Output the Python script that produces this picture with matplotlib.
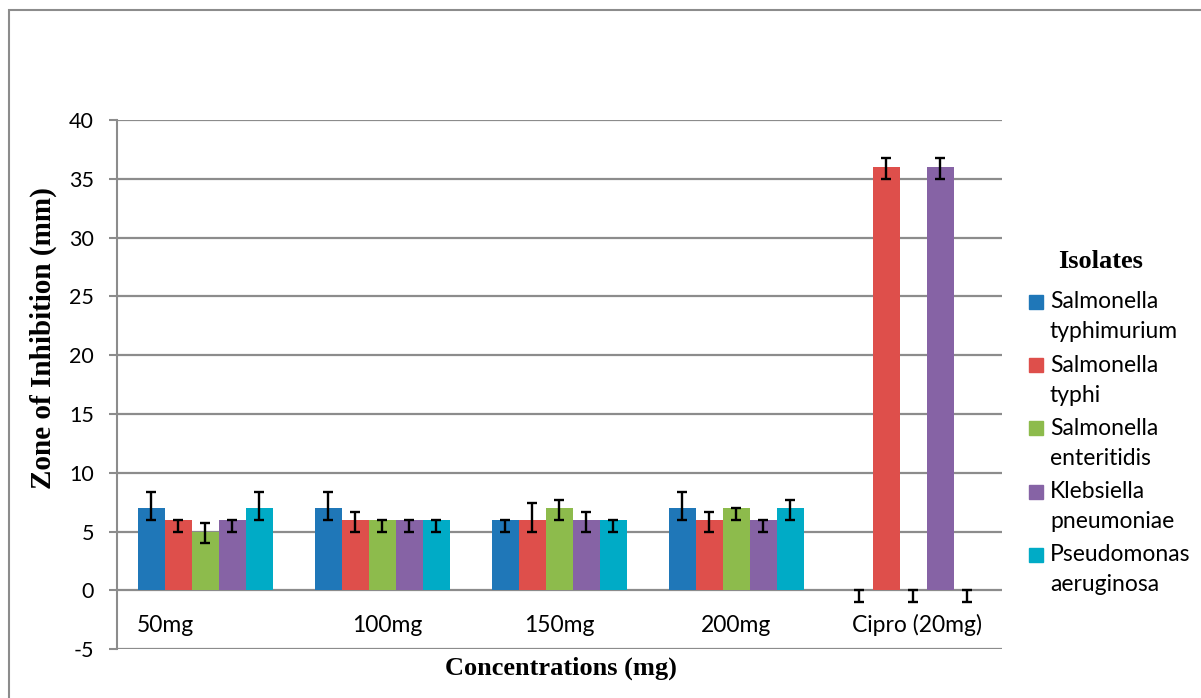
import matplotlib
matplotlib.use("Agg")
import matplotlib.pyplot as plt
from matplotlib.patches import Rectangle
import numpy as np

# ---- data ----
concentrations = ["50mg", "100mg", "150mg", "200mg", "Cipro (20mg)"]
isolates = ["Salmonella\ntyphimurium", "Salmonella\ntyphi", "Salmonella\nenteritidis",
            "Klebsiella\npneumoniae", "Pseudomonas\naeruginosa"]
colors = ["#1F77B8", "#DE4F4B", "#8DBB4C", "#8663A5", "#00ABC6"]

# zone of inhibition (mm), one list per isolate across the concentrations
zone = [
    [7, 7, 6, 7, 0],    # S. typhimurium
    [6, 6, 6, 6, 36],   # S. typhi
    [5, 6, 7, 7, 0],    # S. enteritidis
    [6, 6, 6, 6, 36],   # K. pneumoniae
    [7, 6, 6, 7, 0],    # P. aeruginosa
]
# error bar extent below / above each bar value
err_lo = [
    [1.0, 1.0, 1.0, 1.0, 1.0],
    [1.0, 1.0, 1.0, 1.0, 1.0],
    [1.0, 1.0, 1.0, 1.0, 1.0],
    [1.0, 1.0, 1.0, 1.0, 1.0],
    [1.0, 1.0, 1.0, 1.0, 1.0],
]
err_hi = [
    [1.4, 1.4, 0.0, 1.4, 0.0],
    [0.0, 0.65, 1.4, 0.65, 0.8],
    [0.75, 0.0, 0.7, 0.0, 0.0],
    [0.0, 0.0, 0.65, 0.0, 0.8],
    [1.4, 0.0, 0.0, 0.7, 0.0],
]
yticks = [-5, 0, 5, 10, 15, 20, 25, 30, 35, 40]

SANS = "Lato"
SERIF = "Liberation Serif"
GRID = "#8C8C8C"

W, H = 1201, 698
fig = plt.figure(figsize=(W / 100, H / 100), dpi=100)
ax = fig.add_axes([116.7 / W, 1 - 649.3 / H, (1001.7 - 116.7) / W, (649.3 - 120) / H])

n_cat = len(concentrations)
x = np.arange(n_cat) + 0.5
bw = 0.1525
for j, (vals, lo, hi, c) in enumerate(zip(zone, err_lo, err_hi, colors)):
    xs = x + (j - 2) * bw
    ax.bar(xs, vals, width=bw, color=c, zorder=2)
    ax.errorbar(xs, vals, yerr=[lo, hi], fmt="none", ecolor="black",
                elinewidth=1.7, capsize=3.4, capthick=1.7, zorder=3)

ax.set_xlim(0, n_cat)
ax.set_ylim(-5, 40)
ax.set_yticks(yticks)
ax.set_yticklabels([str(t) for t in yticks], fontfamily=SANS, fontsize=15.5)
ax.set_xticks([])
for s in ("top", "right", "bottom"):
    ax.spines[s].set_visible(False)
ax.spines["left"].set_color(GRID)
ax.spines["left"].set_linewidth(1.5)
ax.tick_params(axis="y", direction="out", length=6, width=1.5, color=GRID, pad=10.5)
for t in yticks:
    ax.axhline(t, color=GRID, lw=1.6, zorder=1)

# category labels sit just under the zero line
label_shift = [-0.227, 0.03, 0.0, 0.0, 0.02]
for xi, lab, dx in zip(x, concentrations, label_shift):
    ax.text(xi + dx, -2.95, lab, ha="center", va="center",
            fontfamily=SANS, fontsize=16.5)

fig.text(43 / W, 1 - 338 / H, "Zone of Inhibition (mm)", rotation=90,
         ha="center", va="center", fontfamily=SERIF, fontweight="bold", fontsize=21)
fig.text(561 / W, 1 - 668 / H, "Concentrations (mg)", ha="center", va="center",
         fontfamily=SERIF, fontweight="bold", fontsize=19)

# legend
fig.text(1101 / W, 1 - 262 / H, "Isolates", ha="center", va="center",
         fontfamily=SERIF, fontweight="bold", fontsize=19)
for k, (lab, c) in enumerate(zip(isolates, colors)):
    y0 = 302 + k * 63.2
    fig.patches.append(Rectangle((1029 / W, 1 - (y0 + 7) / H), 14 / W, 14 / H,
                                 transform=fig.transFigure, color=c))
    l1, l2 = lab.split("\n")
    fig.text(1050 / W, 1 - y0 / H, l1, ha="left", va="center",
             fontfamily=SANS, fontsize=16.5)
    fig.text(1050 / W, 1 - (y0 + 30) / H, l2, ha="left", va="center",
             fontfamily=SANS, fontsize=16.5)

# chart frame
fig.patches.append(Rectangle((8.5 / W, -0.1), 1.2, 1 - 10.5 / H + 0.1,
                             transform=fig.transFigure, fill=False,
                             edgecolor="#8C8C8C", lw=1.5))

fig.savefig("out.png", dpi=100)
